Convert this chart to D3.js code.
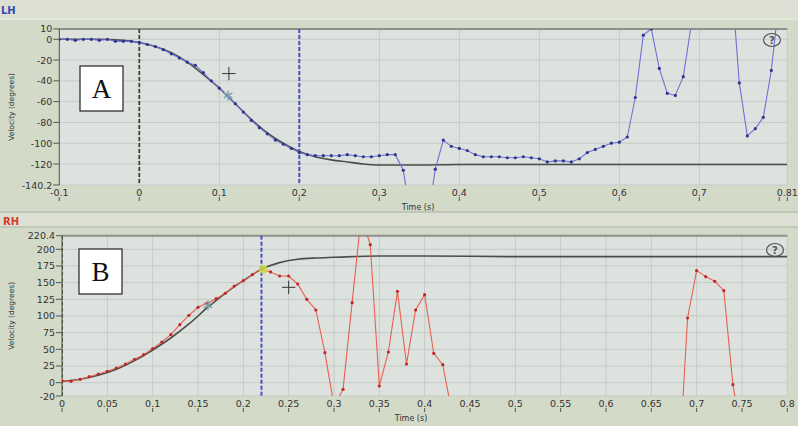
<!DOCTYPE html>
<html>
<head>
<meta charset="utf-8">
<script src="https://cdn.jsdelivr.net/npm/d3@7"></script>
<style>
  body { margin: 0; background: #d4dac8; }
  text { font-family: "DejaVu Sans", sans-serif; }
</style>
</head>
<body>
<div id="chart"></div>
<script>
// LH panel (A)
const lhTime = [-0.1, -0.09, -0.08, -0.07, -0.06, -0.05, -0.04, -0.03, -0.02, -0.01,
    0, 0.01, 0.02, 0.03, 0.04, 0.05, 0.06, 0.07, 0.08, 0.09,
    0.1, 0.11, 0.12, 0.13, 0.14, 0.15, 0.16, 0.17, 0.18, 0.19,
    0.2, 0.21, 0.22, 0.23, 0.24, 0.25, 0.26, 0.27, 0.28, 0.29,
    0.3, 0.31, 0.32, 0.33, 0.34, 0.35, 0.36, 0.37, 0.38, 0.39,
    0.4, 0.41, 0.42, 0.43, 0.44, 0.45, 0.46, 0.47, 0.48, 0.49,
    0.5, 0.51, 0.52, 0.53, 0.54, 0.55, 0.56, 0.57, 0.58, 0.59,
    0.6, 0.61, 0.62, 0.63, 0.64, 0.65, 0.66, 0.67, 0.68, 0.69,
    0.7, 0.71, 0.72, 0.73, 0.74, 0.75, 0.76, 0.77, 0.78, 0.79, 0.8];
const lhVel = [0, 0, -1, 0, 0, -1, 0, -2, -2, -2,
    -3, -5, -7, -10, -14, -18, -22, -25, -32, -40,
    -47, -54, -62, -70, -78, -85, -91, -97, -101, -105,
    -109, -111, -112, -112, -112, -112, -111, -112, -113, -113,
    -112, -111, -111, -126, -175, -220, -175, -125, -97, -103,
    -105, -107, -111, -113, -113, -113, -114, -114, -113, -114,
    -115, -118, -117, -117, -118, -115, -109, -106, -103, -100,
    -99, -94, -56, 4, 10, -28, -52, -54, -36, 14,
    60, 90, 90, 70, 60, -42, -93, -86, -75, -30, 40];
const lhFitTime = [-0.1, -0.05, -0.02, 0, 0.02, 0.04, 0.06, 0.08, 0.1, 0.12, 0.14, 0.16,
    0.18, 0.2, 0.22, 0.24, 0.26, 0.28, 0.3, 0.35, 0.4, 0.5, 0.6, 0.7, 0.81];
const lhFitVel = [0, 0, -1, -3, -7, -13, -22, -34, -47, -62, -77, -90,
    -100, -108, -113, -116, -118, -120, -121, -121, -120.5, -120.5, -120.5, -120.5, -120.5];
const lhYTicks = [10, 0, -20, -40, -60, -80, -100, -120, -140.2];
const lhXTicks = [-0.1, 0, 0.1, 0.2, 0.3, 0.4, 0.5, 0.6, 0.7, 0.81];
const lhXMarks = [-0.1, 0, 0.1, 0.2, 0.3, 0.4, 0.5, 0.6, 0.7, 0.8, 0.81];
const lhCursors = [0, 0.2];
const lhPlus = [0.112, -33];
const lhStar = [0.111, -54];

// RH panel (B)
const rhTime = [0, 0.01, 0.02, 0.03, 0.04, 0.05, 0.06, 0.07, 0.08, 0.09,
    0.1, 0.11, 0.12, 0.13, 0.14, 0.15, 0.16, 0.17, 0.18, 0.19,
    0.2, 0.21, 0.22, 0.23, 0.24, 0.25, 0.26, 0.27, 0.28, 0.29,
    0.3, 0.31, 0.32, 0.33, 0.34, 0.35, 0.36, 0.37, 0.38, 0.39,
    0.4, 0.41, 0.42, 0.43, 0.44, 0.45, 0.46, 0.47, 0.48, 0.49,
    0.5, 0.51, 0.52, 0.53, 0.54, 0.55, 0.56, 0.57, 0.58, 0.59,
    0.6, 0.61, 0.62, 0.63, 0.64, 0.65, 0.66, 0.67, 0.68, 0.69,
    0.7, 0.71, 0.72, 0.73, 0.74, 0.75, 0.76, 0.77, 0.78, 0.79, 0.8];
const rhVel = [3, 2, 5, 9, 13, 17, 22, 28, 35, 42,
    51, 61, 72, 87, 101, 113, 119, 126, 134, 145,
    153, 162, 170, 166, 160, 160, 148, 125, 109, 45,
    -35, -10, 120, 250, 207, -5, 46, 137, 28, 109,
    132, 44, 27, -45, null, null, null, null, null, null,
    null, null, null, null, null, null, null, null, null, null,
    null, null, null, null, null, null, null, null, -140, 97,
    168, 159, 152, 138, -3, -80, null, null, null, null, null];
const rhFitTime = [0, 0.02, 0.04, 0.06, 0.08, 0.1, 0.12, 0.14, 0.16, 0.18, 0.2, 0.22,
    0.24, 0.26, 0.28, 0.3, 0.35, 0.4, 0.5, 0.6, 0.7, 0.8];
const rhFitVel = [2, 5, 11, 20, 33, 49, 67, 88, 112, 134, 153, 170,
    180, 185, 187, 188, 190, 190, 189, 189, 189, 189];
const rhYTicks = [220.4, 200, 175, 150, 125, 100, 75, 50, 25, 0, -20];
const rhXTicks = [0, 0.05, 0.1, 0.15, 0.2, 0.25, 0.3, 0.35, 0.4, 0.45, 0.5, 0.55, 0.6, 0.65, 0.7, 0.75, 0.8];
const rhCursors = [0, 0.22];
const rhPlus = [0.25, 143];
const rhStar = [0.161, 116];
const rhDot = [0.222, 170];

const width = 798;
const height = 426;

const svg = d3.select("#chart")
    .append("svg")
    .attr("width", width)
    .attr("height", height);

// header strips
svg.append("rect").attr("x", 0).attr("y", 0).attr("width", width).attr("height", 19).attr("fill", "#dbe0d3");
svg.append("line").attr("x1", 0).attr("x2", width).attr("y1", 19).attr("y2", 19).attr("stroke", "#eef1e8");
svg.append("text").attr("x", 1).attr("y", 14).attr("fill", "#3848b8")
    .attr("font-size", 10).attr("font-weight", "bold").text("LH");

svg.append("rect").attr("x", 0).attr("y", 212).attr("width", width).attr("height", 15).attr("fill", "#dbe0d3");
svg.append("line").attr("x1", 0).attr("x2", width).attr("y1", 212).attr("y2", 212).attr("stroke", "#aab1a4");
svg.append("line").attr("x1", 0).attr("x2", width).attr("y1", 227).attr("y2", 227).attr("stroke", "#aab1a4");
svg.append("text").attr("x", 3).attr("y", 225).attr("fill", "#d83a2a")
    .attr("font-size", 10).attr("font-weight", "bold").text("RH");

function drawPanel(cfg) {
    const g = svg.append("g");
    const x = d3.scaleLinear().domain(cfg.xDomain).range([cfg.left, cfg.right]);
    const y = d3.scaleLinear().domain(cfg.yDomain).range([cfg.bottom, cfg.top]);

    g.append("rect")
        .attr("x", cfg.left).attr("y", cfg.top)
        .attr("width", cfg.right - cfg.left).attr("height", cfg.bottom - cfg.top)
        .attr("fill", "#dde2df");

    const clipId = "clip-" + cfg.id;
    g.append("clipPath").attr("id", clipId)
        .append("rect")
        .attr("x", cfg.left).attr("y", cfg.top)
        .attr("width", cfg.right - cfg.left).attr("height", cfg.bottom - cfg.top);

    // grid
    g.selectAll(".hgrid").data(cfg.yTicks).enter().append("line")
        .attr("x1", cfg.left).attr("x2", cfg.right)
        .attr("y1", d => y(d)).attr("y2", d => y(d))
        .attr("stroke", "#c5cbc8");
    g.selectAll(".vgrid").data(cfg.xTicks).enter().append("line")
        .attr("x1", d => x(d)).attr("x2", d => x(d))
        .attr("y1", cfg.top).attr("y2", cfg.bottom)
        .attr("stroke", "#c5cbc8");

    // top border
    g.append("line")
        .attr("x1", cfg.left).attr("x2", cfg.right)
        .attr("y1", cfg.top).attr("y2", cfg.top)
        .attr("stroke", "#8c918c").attr("stroke-width", 2);

    // y axis
    g.append("line")
        .attr("x1", cfg.left).attr("x2", cfg.left)
        .attr("y1", cfg.top).attr("y2", cfg.bottom)
        .attr("stroke", "#555");
    g.selectAll(".ytick").data(cfg.yTicks).enter().append("line")
        .attr("x1", cfg.left - 6).attr("x2", cfg.left)
        .attr("y1", d => y(d)).attr("y2", d => y(d))
        .attr("stroke", "#555");
    g.selectAll(".ylabel").data(cfg.yTicks).enter().append("text")
        .attr("x", cfg.left - 7).attr("y", d => y(d) + 3.5)
        .attr("text-anchor", "end").attr("font-size", 9.5).attr("fill", "#333")
        .text(d => d);

    g.append("text")
        .attr("transform", `translate(14, ${(cfg.top + cfg.bottom) / 2}) rotate(-90)`)
        .attr("text-anchor", "middle").attr("font-size", 7.5).attr("fill", "#333")
        .text("Velocity (degrees)");

    // x axis labels and marks
    g.selectAll(".xlabel").data(cfg.xTicks).enter().append("text")
        .attr("x", d => x(d)).attr("y", cfg.bottom + 11)
        .attr("text-anchor", "middle").attr("font-size", 9.5).attr("fill", "#333")
        .text(d => d);
    g.selectAll(".xmark").data(cfg.xMarks).enter().append("line")
        .attr("x1", d => x(d)).attr("x2", d => x(d))
        .attr("y1", cfg.bottom + 12).attr("y2", cfg.bottom + 16)
        .attr("stroke", "#555");
    g.append("text")
        .attr("x", cfg.titleX).attr("y", cfg.bottom + 25)
        .attr("text-anchor", "middle").attr("font-size", 8).attr("fill", "#333")
        .text("Time (s)");

    const plot = g.append("g").attr("clip-path", `url(#${clipId})`);

    // cursors
    plot.append("line")
        .attr("x1", x(cfg.cursors[0])).attr("x2", x(cfg.cursors[0]))
        .attr("y1", cfg.top).attr("y2", cfg.bottom)
        .attr("stroke", "#3c4a34").attr("stroke-width", 1.8).attr("stroke-dasharray", "4,2");
    plot.append("line")
        .attr("x1", x(cfg.cursors[1])).attr("x2", x(cfg.cursors[1]))
        .attr("y1", cfg.top).attr("y2", cfg.bottom)
        .attr("stroke", "#4850c8").attr("stroke-width", 2).attr("stroke-dasharray", "4,2");

    // fit line
    const fitData = cfg.fitTime.map((t, i) => ({ t: t, v: cfg.fitVel[i] }));
    plot.append("path")
        .datum(fitData)
        .attr("fill", "none").attr("stroke", "#4a4e4a").attr("stroke-width", 1.6)
        .attr("d", d3.line().x(d => x(d.t)).y(d => y(d.v)).curve(d3.curveMonotoneX));

    // measured series
    const data = cfg.time.map((t, i) => ({ t: t, v: cfg.vel[i] }));
    plot.append("path")
        .datum(data)
        .attr("fill", "none").attr("stroke", cfg.lineColor).attr("stroke-width", 1.1)
        .attr("d", d3.line().defined(d => d.v != null).x(d => x(d.t)).y(d => y(d.v)));
    plot.selectAll(".dot").data(data.filter(d => d.v != null)).enter().append("circle")
        .attr("cx", d => x(d.t)).attr("cy", d => y(d.v)).attr("r", 1.6)
        .attr("fill", cfg.dotColor);

    // markers
    if (cfg.dot) {
        plot.append("circle")
            .attr("cx", x(cfg.dot[0])).attr("cy", y(cfg.dot[1])).attr("r", 4.5)
            .attr("fill", "#c8e040").attr("opacity", 0.8);
    }
    plot.append("path")
        .attr("transform", `translate(${x(cfg.star[0])}, ${y(cfg.star[1])})`)
        .attr("d", d3.symbol(d3.symbolAsterisk, 70)())
        .attr("fill", "none").attr("stroke", "#7aa2a8").attr("stroke-width", 1.4);
    plot.append("path")
        .attr("transform", `translate(${x(cfg.plus[0])}, ${y(cfg.plus[1])})`)
        .attr("d", d3.symbol(d3.symbolPlus, 60)())
        .attr("fill", "none").attr("stroke", "#333").attr("stroke-width", 1);

    // label box
    g.append("rect")
        .attr("x", cfg.box[0]).attr("y", cfg.box[1]).attr("width", 43).attr("height", 45)
        .attr("fill", "#fff").attr("stroke", "#222").attr("stroke-width", 1.2);
    g.append("text")
        .attr("x", cfg.box[0] + 21.5).attr("y", cfg.box[1] + 32)
        .attr("text-anchor", "middle").attr("font-size", 27)
        .style("font-family", "'Liberation Serif', 'DejaVu Serif', serif").attr("fill", "#111")
        .text(cfg.label);

    // help icon
    g.append("ellipse")
        .attr("cx", cfg.help[0]).attr("cy", cfg.help[1]).attr("rx", 8.5).attr("ry", 6.5)
        .attr("fill", "none").attr("stroke", "#555").attr("stroke-width", 1.2);
    g.append("text")
        .attr("x", cfg.help[0]).attr("y", cfg.help[1] + 4)
        .attr("text-anchor", "middle").attr("font-size", 10).attr("font-weight", "bold").attr("fill", "#555")
        .text("?");
}

drawPanel({
    id: "lh", left: 59.3, right: 787.3, top: 28.9, bottom: 185,
    xDomain: [-0.1, 0.81], yDomain: [-140.2, 10],
    xTicks: lhXTicks, xMarks: lhXMarks, yTicks: lhYTicks,
    time: lhTime, vel: lhVel, fitTime: lhFitTime, fitVel: lhFitVel,
    cursors: lhCursors, plus: lhPlus, star: lhStar, dot: null,
    lineColor: "#6e70d4", dotColor: "#30348c",
    box: [80, 66], label: "A", help: [772, 40], titleX: 418
});

drawPanel({
    id: "rh", left: 62, right: 787.3, top: 235.7, bottom: 396,
    xDomain: [0, 0.8], yDomain: [-20, 220.4],
    xTicks: rhXTicks, xMarks: rhXTicks, yTicks: rhYTicks,
    time: rhTime, vel: rhVel, fitTime: rhFitTime, fitVel: rhFitVel,
    cursors: rhCursors, plus: rhPlus, star: rhStar, dot: rhDot,
    lineColor: "#e8604e", dotColor: "#c02828",
    box: [79, 249], label: "B", help: [775, 250], titleX: 411
});
</script>
</body>
</html>
